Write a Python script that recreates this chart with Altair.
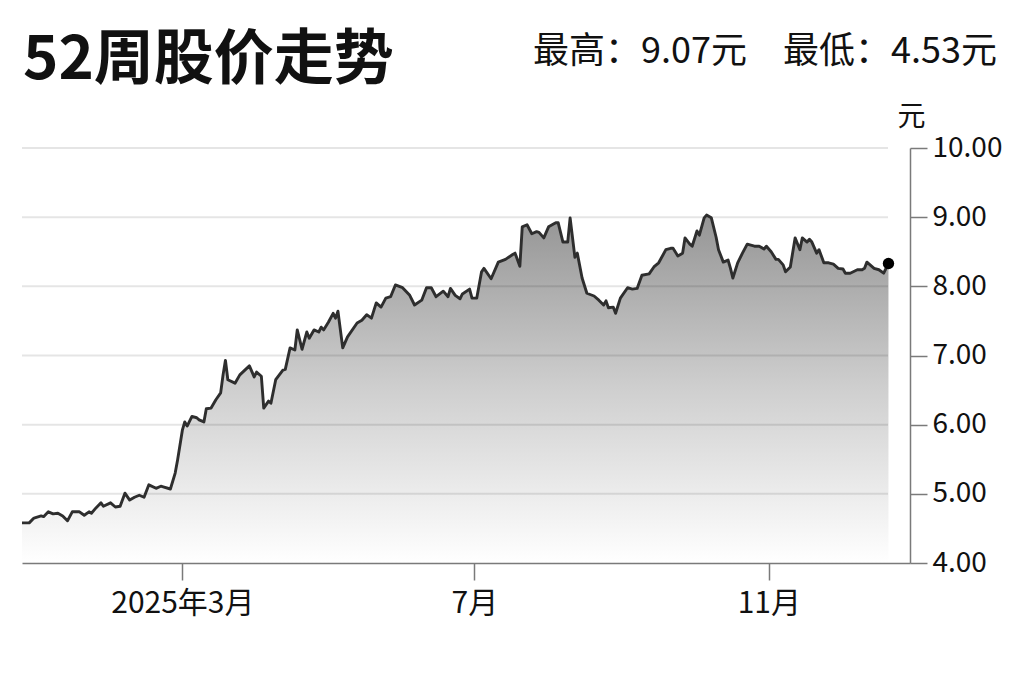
import altair as alt
import pandas as pd

# ---- data ----
dates = [
    "2024-12-24", "2024-12-27", "2024-12-29", "2025-01-01", "2025-01-02", "2025-01-04",
    "2025-01-06", "2025-01-08", "2025-01-10", "2025-01-12", "2025-01-14", "2025-01-17",
    "2025-01-19", "2025-01-21", "2025-01-22", "2025-01-24", "2025-01-26", "2025-01-27",
    "2025-01-30", "2025-02-01", "2025-02-03", "2025-02-05", "2025-02-07", "2025-02-09",
    "2025-02-11", "2025-02-13", "2025-02-15", "2025-02-18", "2025-02-20", "2025-02-21",
    "2025-02-24", "2025-02-26", "2025-02-27", "2025-03-01", "2025-03-02", "2025-03-03",
    "2025-03-05", "2025-03-07", "2025-03-08", "2025-03-10", "2025-03-11", "2025-03-13",
    "2025-03-15", "2025-03-17", "2025-03-18", "2025-03-19", "2025-03-20", "2025-03-23",
    "2025-03-25", "2025-03-29", "2025-03-31", "2025-04-01", "2025-04-03", "2025-04-04",
    "2025-04-06", "2025-04-07", "2025-04-09", "2025-04-12", "2025-04-13", "2025-04-15",
    "2025-04-17", "2025-04-18", "2025-04-20", "2025-04-22", "2025-04-23", "2025-04-25",
    "2025-04-27", "2025-04-28", "2025-04-29", "2025-05-01", "2025-05-03", "2025-05-04",
    "2025-05-05", "2025-05-07", "2025-05-09", "2025-05-13", "2025-05-15", "2025-05-17",
    "2025-05-19", "2025-05-21", "2025-05-23", "2025-05-25", "2025-05-27", "2025-05-29",
    "2025-06-01", "2025-06-04", "2025-06-06", "2025-06-09", "2025-06-11", "2025-06-13",
    "2025-06-15", "2025-06-18", "2025-06-20", "2025-06-21", "2025-06-23", "2025-06-25",
    "2025-06-26", "2025-06-29", "2025-06-30", "2025-07-02", "2025-07-04", "2025-07-05",
    "2025-07-08", "2025-07-11", "2025-07-14", "2025-07-17", "2025-07-18", "2025-07-20",
    "2025-07-21", "2025-07-23", "2025-07-25", "2025-07-27", "2025-07-28", "2025-07-30",
    "2025-08-01", "2025-08-04", "2025-08-05", "2025-08-07", "2025-08-09", "2025-08-10",
    "2025-08-12", "2025-08-13", "2025-08-15", "2025-08-17", "2025-08-20", "2025-08-22",
    "2025-08-24", "2025-08-25", "2025-08-26", "2025-08-28", "2025-08-29", "2025-08-31",
    "2025-09-03", "2025-09-05", "2025-09-07", "2025-09-09", "2025-09-12", "2025-09-14",
    "2025-09-16", "2025-09-19", "2025-09-21", "2025-09-22", "2025-09-24", "2025-09-26",
    "2025-09-27", "2025-09-29", "2025-09-30", "2025-10-02", "2025-10-03", "2025-10-05",
    "2025-10-06", "2025-10-08", "2025-10-10", "2025-10-11", "2025-10-13", "2025-10-15",
    "2025-10-16", "2025-10-17", "2025-10-19", "2025-10-21", "2025-10-23", "2025-10-26",
    "2025-10-28", "2025-10-30", "2025-10-31", "2025-11-02", "2025-11-04", "2025-11-05",
    "2025-11-07", "2025-11-08", "2025-11-10", "2025-11-12", "2025-11-14", "2025-11-15",
    "2025-11-17", "2025-11-18", "2025-11-19", "2025-11-21", "2025-11-22", "2025-11-24",
    "2025-11-26", "2025-11-28", "2025-11-30", "2025-12-02", "2025-12-03", "2025-12-05",
    "2025-12-08", "2025-12-10", "2025-12-11", "2025-12-12", "2025-12-15", "2025-12-17",
    "2025-12-19", "2025-12-21",
]
prices = [
    4.58, 4.58, 4.65, 4.68, 4.67, 4.74,
    4.71, 4.72, 4.68, 4.61, 4.74, 4.74,
    4.69, 4.74, 4.72, 4.80, 4.87, 4.82,
    4.87, 4.81, 4.82, 5.01, 4.91, 4.95,
    4.98, 4.95, 5.13, 5.08, 5.11, 5.10,
    5.07, 5.30, 5.49, 5.92, 6.04, 5.98,
    6.12, 6.10, 6.07, 6.04, 6.23, 6.24,
    6.36, 6.46, 6.72, 6.93, 6.65, 6.60,
    6.72, 6.85, 6.69, 6.76, 6.70, 6.24,
    6.34, 6.31, 6.65, 6.79, 6.80, 7.11,
    7.08, 7.37, 7.09, 7.34, 7.25, 7.37,
    7.34, 7.41, 7.37, 7.48, 7.61, 7.54,
    7.64, 7.11, 7.27, 7.47, 7.51, 7.59,
    7.54, 7.76, 7.70, 7.83, 7.85, 8.02,
    7.98, 7.87, 7.73, 7.80, 7.98, 7.98,
    7.85, 7.93, 7.85, 7.97, 7.87, 7.82,
    7.89, 7.96, 7.83, 7.83, 8.21, 8.26,
    8.11, 8.35, 8.39, 8.46, 8.48, 8.29,
    8.86, 8.89, 8.76, 8.79, 8.78, 8.70,
    8.86, 8.92, 8.92, 8.64, 8.64, 8.99,
    8.42, 8.48, 8.12, 7.90, 7.86, 7.80,
    7.73, 7.79, 7.69, 7.70, 7.61, 7.83,
    7.98, 7.96, 7.97, 8.16, 8.18, 8.28,
    8.34, 8.53, 8.55, 8.55, 8.44, 8.48,
    8.70, 8.61, 8.58, 8.80, 8.74, 8.99,
    9.03, 8.99, 8.71, 8.53, 8.35, 8.38,
    8.26, 8.12, 8.34, 8.48, 8.61, 8.58,
    8.58, 8.54, 8.58, 8.50, 8.39, 8.39,
    8.31, 8.21, 8.28, 8.70, 8.53, 8.70,
    8.64, 8.68, 8.64, 8.48, 8.53, 8.34,
    8.34, 8.32, 8.26, 8.25, 8.19, 8.19,
    8.24, 8.24, 8.26, 8.35, 8.26, 8.24,
    8.19, 8.33,
]
y_ticks = [4, 5, 6, 7, 8, 9, 10]
grid_values = [5, 6, 7, 8, 9, 10]
x_tick_dates = [(2025, 3, 1), (2025, 7, 1), (2025, 11, 1)]
x_tick_labels = ["2025年3月", "7月", "11月"]
title_text = "52周股价走势"
unit_text = "元"
high_price = 9.07
low_price = 4.53

FONT = "Noto Sans CJK SC"
AXIS_GREY = "#7a7a7a"

df = pd.DataFrame({"date": pd.to_datetime(dates), "price": prices})
last = df.tail(1)
stats_df = pd.DataFrame({"t": [f"最高：{high_price:.2f}元\u3000最低：{low_price:.2f}元"]})
title_df = pd.DataFrame({"t": [title_text]})
grid_df = pd.DataFrame({"v": grid_values})

x_scale = alt.Scale(domain=[alt.DateTime(year=2024, month=12, date=24),
                            alt.DateTime(year=2025, month=12, date=30)])
y_scale = alt.Scale(domain=[min(y_ticks), max(y_ticks)], nice=False, zero=False)

label_expr = " : ".join(
    f"month(datum.value)=={m - 1} ? '{lab}'" for (yy, m, d), lab in zip(x_tick_dates, x_tick_labels)
) + " : ''"

x_axis = alt.Axis(
    values=[alt.DateTime(year=yy, month=m, date=d) for yy, m, d in x_tick_dates],
    labelExpr=label_expr, grid=False, title=None,
    domainColor=AXIS_GREY, domainWidth=1.5, tickColor=AXIS_GREY, tickWidth=1.5,
    tickSize=17, labelPadding=8, labelFont=FONT, labelFontSize=30, labelColor="#111",
    labelFlush=False, zindex=1,
)
y_axis = alt.Axis(
    orient="right", values=y_ticks, format=".2f", grid=False,
    title=unit_text, titleAngle=0, titleAlign="center", titleBaseline="alphabetic",
    titleX=1, titleY=-23, titleFont=FONT, titleFontSize=28, titleFontWeight="normal",
    titleColor="#111",
    domainColor=AXIS_GREY, domainWidth=1.5, tickColor=AXIS_GREY, tickWidth=1.5,
    tickSize=17, labelPadding=5, labelFont=FONT, labelFontSize=28, labelColor="#111",
    labelBaseline="middle", zindex=1,
)

base = alt.Chart(df).encode(
    x=alt.X("date:T", scale=x_scale, axis=x_axis),
    y=alt.Y("price:Q", scale=y_scale, axis=y_axis),
)

area = base.mark_area(
    color=alt.Gradient(
        gradient="linear",
        stops=[alt.GradientStop(color="#959595", offset=0),
               alt.GradientStop(color="#cfcfcf", offset=0.5),
               alt.GradientStop(color="#ffffff", offset=1)],
        x1=1, x2=1, y1=0, y2=1,
    )
).encode(y2=alt.datum(min(y_ticks)))
grid = alt.Chart(grid_df).mark_rule(color="#000", opacity=0.1, strokeWidth=2).encode(
    y=alt.Y("v:Q", scale=y_scale, axis=y_axis),
    x=alt.value(0), x2=alt.value(866),
)
line = base.mark_line(color="#2e2e2e", strokeWidth=2.9, strokeJoin="round")
point = alt.Chart(last).mark_point(filled=True, size=130, color="#000", opacity=1).encode(
    x=alt.X("date:T", scale=x_scale, axis=x_axis),
    y=alt.Y("price:Q", scale=y_scale, axis=y_axis),
)
stats = alt.Chart(stats_df).mark_text(
    align="right", baseline="alphabetic", font=FONT, fontSize=36, color="#111"
).encode(text="t:N", x=alt.value(975), y=alt.value(-85))
title = alt.Chart(title_df).mark_text(
    align="left", baseline="alphabetic", font=FONT, fontSize=60, fontWeight="bold", color="#111"
).encode(text="t:N", x=alt.value(1), y=alt.value(-69))

chart = alt.layer(area, grid, line, point, stats, title).properties(
    width=888, height=415,
    autosize=alt.AutoSizeParams(type="none"),
    padding={"left": 14, "top": 140, "right": 105, "bottom": 111},
).configure_view(stroke=None)

chart.save("out.html", embed_options={"renderer": "svg", "actions": False})
